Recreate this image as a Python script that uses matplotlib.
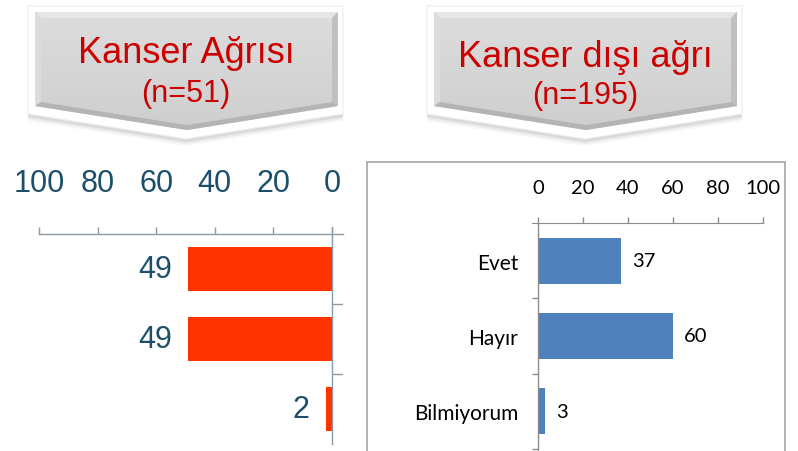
import numpy as np
import matplotlib
matplotlib.use('Agg')
import matplotlib.pyplot as plt
from matplotlib.patches import Polygon, Rectangle

# ---- data ----
categories = ['Evet', 'Hayır', 'Bilmiyorum']
cancer_vals = [49, 49, 2]
noncancer_vals = [37, 60, 3]
x_ticks = [0, 20, 40, 60, 80, 100]
left_title = 'Kanser Ağrısı'
left_n = '(n=51)'
right_title = 'Kanser dışı ağrı'
right_n = '(n=195)'

W, H = 798, 452
fig = plt.figure(figsize=(W/100, H/100), dpi=100)
fig.patch.set_facecolor('white')

def px_axes(x0, y0, x1, y1, **kw):
    return fig.add_axes([x0/W, 1 - y1/H, (x1-x0)/W, (y1-y0)/H], **kw)

# background layer in pixel coordinates
bg = px_axes(0, 0, W, H)
bg.set_xlim(0, W)
bg.set_ylim(H, 0)
bg.axis('off')

def callout(dx, title, sub, ty, sy, tsize):
    def sh(pts):
        return [(x + dx, y) for x, y in pts]
    outer = sh([(28, 7), (343, 7), (343, 115), (186, 140), (28, 115)])
    # soft shadow
    for k, a in zip([7, 5, 3], [0.03, 0.05, 0.07]):
        pts = [(x, y + k) for x, y in outer]
        bg.add_patch(Polygon(pts, closed=True, fc='black', ec='none', alpha=a, zorder=1))
    bg.add_patch(Polygon(outer, closed=True, fc='white', ec='#EDEDED', lw=0.8, zorder=2))
    face = sh([(35, 13), (338, 13), (338, 107), (187, 131), (35, 107)])
    bg.add_patch(Polygon(face, closed=True, fc='#C4C4C4', ec='none', zorder=3))
    bg.add_patch(Polygon(sh([(35, 13), (338, 13), (332, 19), (41, 19)]),
                         closed=True, fc='#E6E6E6', ec='none', zorder=4))
    bg.add_patch(Polygon(sh([(35, 13), (41, 19), (41, 103), (35, 107)]),
                         closed=True, fc='#DCDCDC', ec='none', zorder=4))
    bg.add_patch(Polygon(sh([(338, 13), (338, 107), (332, 103), (332, 19)]),
                         closed=True, fc='#C0C0C0', ec='none', zorder=4))
    bg.add_patch(Polygon(sh([(35, 107), (187, 131), (338, 107), (332, 103), (187, 126), (41, 103)]),
                         closed=True, fc='#B4B4B4', ec='none', zorder=4))
    inner = Polygon(sh([(41, 19), (332, 19), (332, 103), (187, 126), (41, 103)]),
                    closed=True, fc='none', ec='none', zorder=5)
    bg.add_patch(inner)
    grad = np.linspace(0, 1, 100).reshape(-1, 1)
    cmap = matplotlib.colors.LinearSegmentedColormap.from_list('g', ['#DCDCDC', '#CFCFCF'])
    im = bg.imshow(grad, extent=[41 + dx, 332 + dx, 126, 19], cmap=cmap,
                   aspect='auto', origin='upper', zorder=5)
    im.set_clip_path(inner)
    cx = 186 + dx
    bg.text(cx, ty, title, ha='center', va='baseline', fontsize=tsize, color='#CC0000',
            family='Liberation Sans', zorder=6)
    bg.text(cx, sy, sub, ha='center', va='baseline', fontsize=22, color='#CC0000',
            family='Liberation Sans', zorder=6)

callout(0, left_title, left_n, 63, 102, 26)
callout(399, right_title, right_n, 67, 104, 26)
bg.set_xlim(0, W)
bg.set_ylim(H, 0)

# right chart frame
bg.add_patch(Rectangle((367, 163), 418, 295, fc='white', ec='#A6A6A6', lw=1.2, zorder=1))

# ---- left chart (reversed) ----
axis_col = '#8C9BA8'
lab_col = '#1B4F6B'
ax1 = px_axes(39, 235, 343, 445)
ax1.set_facecolor('none')
ypos = np.arange(len(categories))
ax1.barh(ypos, cancer_vals, height=0.63, color='#FF3300', zorder=3)
ax1.set_xlim(100, -3.75)
ax1.set_ylim(2.5, -0.5)
for s in ['left', 'right', 'bottom']:
    ax1.spines[s].set_visible(False)
ax1.spines['top'].set_color(axis_col)
ax1.spines['top'].set_linewidth(1.0)
ax1.xaxis.tick_top()
ax1.set_xticks(x_ticks)
ax1.set_xticklabels([str(t) for t in x_ticks], fontsize=22, color=lab_col, family='Liberation Sans')
ax1.tick_params(axis='x', direction='out', length=5, width=1.0, color=axis_col, pad=21)
ax1.set_yticks([])
ax1.plot([0, 0], [-0.6, 2.5], color=axis_col, lw=1.0, clip_on=False, zorder=4)
ax1.hlines(ypos[:-1] + 0.5, 0, -3.75, color=axis_col, lw=1.0, zorder=4)
for i, v in enumerate(cancer_vals):
    ax1.annotate(str(v), (v, i), xytext=(-12, 0), textcoords='offset points',
                 ha='right', va='center', fontsize=22, color=lab_col, family='Liberation Sans')

# ---- right chart ----
ax2 = px_axes(532, 224, 763, 450)
ax2.set_facecolor('none')
ax2.barh(ypos, noncancer_vals, height=0.61, color='#4F81BD', zorder=3)
ax2.set_xlim(-2.67, 100)
ax2.set_ylim(2.5, -0.5)
for s in ['left', 'right', 'bottom']:
    ax2.spines[s].set_visible(False)
ax2.spines['top'].set_color('#8C8C8C')
ax2.xaxis.tick_top()
ax2.set_xticks(x_ticks)
ax2.set_xticklabels([str(t) for t in x_ticks], fontsize=14.5, color='black', family='Lato')
ax2.tick_params(axis='x', direction='out', length=4.5, width=1.0, color='#8C8C8C', pad=15)
ax2.set_yticks(ypos)
ax2.set_yticklabels(categories, fontsize=15, color='black', family='Lato')
ax2.tick_params(axis='y', length=0, pad=10)
ax2.plot([0, 0], [-0.5, 2.52], color='#8C8C8C', lw=1.0, clip_on=False, zorder=4)
ax2.hlines(ypos + 0.5, -2.67, 0, color='#8C8C8C', lw=1.0, zorder=4, clip_on=False)
for i, v in enumerate(noncancer_vals):
    ax2.annotate(str(v), (v, i), xytext=(8, 0), textcoords='offset points',
                 ha='left', va='center', fontsize=14.5, color='black', family='Lato')

fig.savefig('out.png', dpi=100)
